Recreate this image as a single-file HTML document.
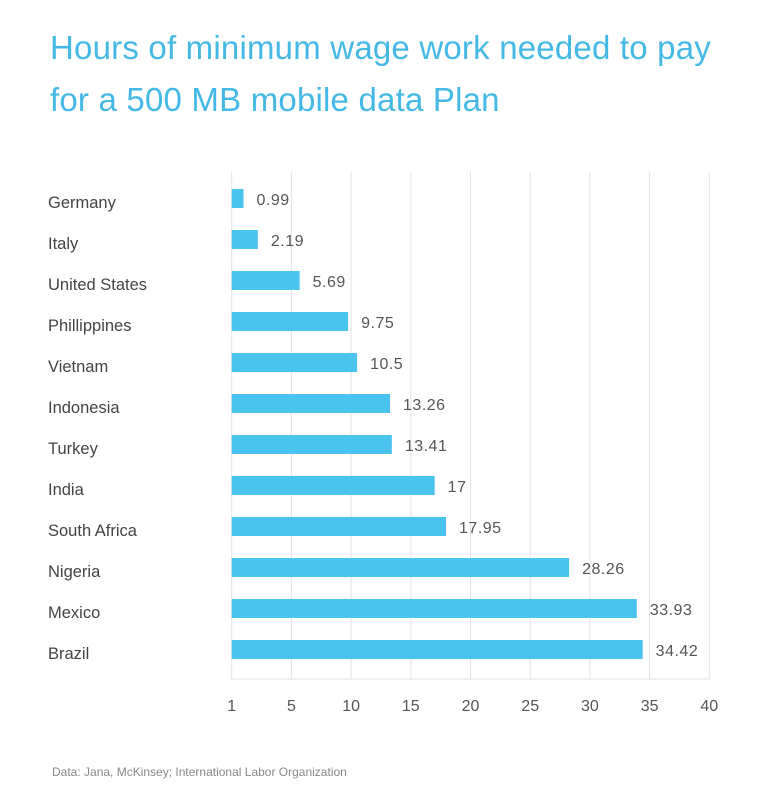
<!DOCTYPE html>
<html><head><meta charset="utf-8"><style>
body{margin:0;background:#fff;font-family:"Liberation Sans",sans-serif;}
#wrap{position:relative;width:780px;height:800px;overflow:hidden;}
h1{position:absolute;left:50px;top:22px;margin:0;font-weight:normal;font-size:33px;line-height:52px;color:#45b9e6;letter-spacing:0.2px;}
.src{position:absolute;left:52px;top:765px;font-size:12px;color:#888;}
</style></head><body>
<div id="wrap">
<h1>Hours of minimum wage work needed to pay<br>for a 500 MB mobile data Plan</h1>
<svg id="chart" width="780" height="800" style="position:absolute;left:0;top:0"></svg>
<div class="src">Data: Jana, McKinsey; International Labor Organization</div>
</div>
<script>
const categories=["Germany","Italy","United States","Phillippines","Vietnam","Indonesia","Turkey","India","South Africa","Nigeria","Mexico","Brazil"];
const values=[0.99,2.19,5.69,9.75,10.5,13.26,13.41,17,17.95,28.26,33.93,34.42];
const valueLabels=["0.99","2.19","5.69","9.75","10.5","13.26","13.41","17","17.95","28.26","33.93","34.42"];
const tickValues=[0,5,10,15,20,25,30,35,40];
const tickLabels=["1","5","10","15","20","25","30","35","40"];
const NS="http://www.w3.org/2000/svg";
const svg=document.getElementById("chart");
const x0=231.7,x1=709.3,xmax=40;
function x(v){return x0+(x1-x0)*v/xmax;}
const rowTop=189,rowStep=41,barH=19;
function y(i){return rowTop+i*rowStep;}
function mk(t,a){const e=document.createElementNS(NS,t);for(const k in a)e.setAttribute(k,a[k]);svg.appendChild(e);return e;}
tickValues.forEach((t,i)=>{
  const g=mk("line",{x1:x(t),x2:x(t),y1:172,y2:679,stroke:"#e3e3e3","stroke-width":1});
  
  
  const l=mk("text",{x:x(t),y:711,"text-anchor":"middle","font-size":16,fill:"#555","font-family":"Liberation Sans, sans-serif"});
  l.textContent=tickLabels[i];
  
  
});
const ax=mk("line",{x1:x0,x2:x1,y1:679,y2:679,stroke:"#e3e3e3","stroke-width":1});


categories.forEach((c,i)=>{
  const r=mk("rect",{x:x0,y:y(i),width:x(values[i])-x0,height:barH,fill:"#4ac3ef"});
  
  
  const cl=mk("text",{x:48,y:y(i)+19,"font-size":16.5,fill:"#444","font-family":"Liberation Sans, sans-serif"});
  cl.textContent=c;
  
  
  const vl=mk("text",{x:x(values[i])+13,y:y(i)+16,"font-size":16,fill:"#555","letter-spacing":"0.5","font-family":"Liberation Sans, sans-serif"});
  vl.textContent=valueLabels[i];
  
  
});
</script>
</body></html>
